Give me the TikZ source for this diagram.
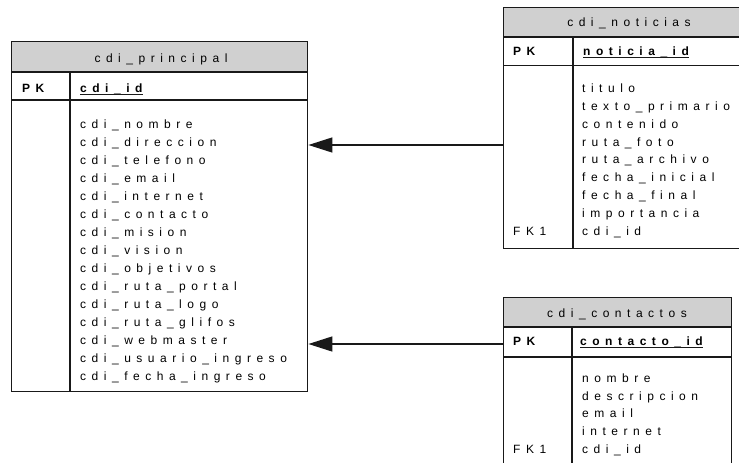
\documentclass[tikz,border=0pt]{standalone}
\usepackage{fontspec}
\setmainfont{Liberation Sans}
\newfontfamily\erf[LetterSpace=46]{Liberation Sans}
\usetikzlibrary{arrows.meta}
\definecolor{hdrgray}{RGB}{208,208,208}
\definecolor{linec}{RGB}{25,25,25}
\tikzset{
  tblframe/.style={draw=linec, line width=1.4pt, rectangle, inner sep=0pt, anchor=north west},
  hdrfill/.style={fill=hdrgray},
  rule/.style={draw=linec, line width=1.4pt},
  fld/.style={inner sep=0pt, anchor=base west, font=\erf\fontsize{12}{14}\selectfont},
  bfld/.style={inner sep=0pt, anchor=base west, font=\erf\bfseries\fontsize{12}{14}\selectfont},
  hdrtxt/.style={inner sep=0pt, anchor=base, font=\erf\fontsize{12}{14}\selectfont},
  fkarrow/.style={draw=linec, line width=1.3pt, -{Triangle[length=24pt,width=15pt]}},
  uline/.style={draw=linec, line width=1.3pt}
}
\begin{document}
\begin{tikzpicture}[x=1pt,y=-1pt]
\clip (0,0) rectangle (739,463);
\fill[white] (0,0) rectangle (739,463);

% ---------- cdi_principal ----------
\path[hdrfill] (11,41) rectangle (307,72);
\node[tblframe, minimum width=296pt, minimum height=350pt] (principal) at (11,41) {};
\draw[rule] (11,72) -- (307,72);
\draw[rule] (11,100) -- (307,100);
\draw[rule] (70,72) -- (70,391);
\node[hdrtxt] (principalhdr) at (161,62) {cdi\_principal};
\node[bfld] (principalpk) at (22,92) {PK};
\node[bfld] (principalid) at (80,92) {cdi\_id};
\draw[uline] ([yshift=-2.2pt]principalid.base west) -- ([yshift=-2.2pt]principalid.base east);
\foreach \t [count=\i] in {cdi\_nombre,cdi\_direccion,cdi\_telefono,cdi\_email,cdi\_internet,cdi\_contacto,cdi\_mision,cdi\_vision,cdi\_objetivos,cdi\_ruta\_portal,cdi\_ruta\_logo,cdi\_ruta\_glifos,cdi\_webmaster,cdi\_usuario\_ingreso,cdi\_fecha\_ingreso}
  \node[fld] (pf\i) at (80,{128.3+18*(\i-1)}) {\t};

% ---------- cdi_noticias ----------
\path[hdrfill] (503,7) rectangle (760,37);
\node[tblframe, minimum width=257pt, minimum height=241pt] (noticias) at (503,7) {};
\draw[rule] (503,37) -- (760,37);
\draw[rule] (503,65.5) -- (760,65.5);
\draw[rule] (573,37) -- (573,248);
\node[hdrtxt] (noticiashdr) at (629,27) {cdi\_noticias};
\node[bfld] (noticiaspk) at (513,55.5) {PK};
\node[bfld] (noticiasid) at (583,55.5) {noticia\_id};
\draw[uline] ([yshift=-2.2pt]noticiasid.base west) -- ([yshift=-2.2pt]noticiasid.base east);
\foreach \t [count=\i] in {titulo,texto\_primario,contenido,ruta\_foto,ruta\_archivo,fecha\_inicial,fecha\_final,importancia,cdi\_id}
  \node[fld] (nf\i) at (582,{92.7+17.8*(\i-1)}) {\t};
\node[fld] (noticiasfk) at (513,235) {FK1};

% ---------- cdi_contactos ----------
\path[hdrfill] (503,297) rectangle (731,327);
\node[tblframe, minimum width=228pt, minimum height=200pt] (contactos) at (503,297) {};
\draw[rule] (503,327) -- (731,327);
\draw[rule] (503,357) -- (731,357);
\draw[rule] (572,327) -- (572,497);
\node[hdrtxt] (contactoshdr) at (617,317.3) {cdi\_contactos};
\node[bfld] (contactospk) at (513,345) {PK};
\node[bfld] (contactosid) at (580,345) {contacto\_id};
\draw[uline] ([yshift=-2.2pt]contactosid.base west) -- ([yshift=-2.2pt]contactosid.base east);
\foreach \t [count=\i] in {nombre,descripcion,email,internet,cdi\_id}
  \node[fld] (cf\i) at (582,{382.7+17.6*(\i-1)}) {\t};
\node[fld] (contactosfk) at (513,453) {FK1};

% ---------- connectors ----------
\coordinate (n1) at (0,145);
\coordinate (c1) at (0,344);
\draw[fkarrow] (noticias.west |- n1) -- (principal.east |- n1);
\draw[fkarrow] (contactos.west |- c1) -- (principal.east |- c1);
\end{tikzpicture}
\end{document}
